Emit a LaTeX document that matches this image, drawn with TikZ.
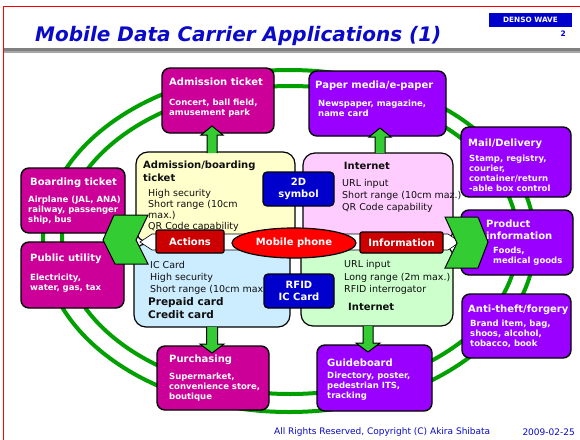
\documentclass[tikz,border=0pt]{standalone}
\usepackage{fontspec}
\setmainfont{DejaVu Sans}
\usetikzlibrary{shapes.geometric}
\definecolor{mag}{RGB}{204,0,153}
\definecolor{purp}{RGB}{153,0,255}
\definecolor{ring}{RGB}{0,160,0}
\definecolor{chev}{RGB}{51,204,51}
\definecolor{dblue}{RGB}{0,0,204}
\definecolor{dred}{RGB}{204,0,0}
\definecolor{tblue}{RGB}{10,10,200}
\definecolor{qyel}{RGB}{255,255,204}
\definecolor{qpink}{RGB}{255,204,255}
\definecolor{qblue}{RGB}{204,236,255}
\definecolor{qgreen}{RGB}{204,255,204}
\definecolor{ink}{RGB}{15,15,15}
\begin{document}
\begin{tikzpicture}[x=1pt,y=-1pt,
  obox/.style={draw=black, line width=1.4pt, rounded corners=8pt, inner sep=0pt},
  qbox/.style={draw=black, line width=1.2pt, rounded corners=12pt, inner sep=0pt},
  cbox/.style={draw=black, line width=1.2pt, rounded corners=2pt, inner sep=0pt, text=white,
    font=\fontsize{10}{12}\selectfont\bfseries, align=center},
  ttl/.style={inner sep=0pt, anchor=north west, align=left, text=white,
    font=\fontsize{10}{12}\selectfont\bfseries},
  bdy/.style={inner sep=0pt, anchor=north west, align=left, text=white,
    font=\fontsize{8.5}{10}\selectfont\bfseries},
  itx/.style={inner sep=0pt, anchor=north west, align=left, text=ink,
    font=\fontsize{9.5}{12}\selectfont},
  ihd/.style={inner sep=0pt, anchor=north west, align=left, text=ink,
    font=\fontsize{10}{13}\selectfont\bfseries},
  garrow/.style={draw=black, line width=1pt, fill=chev, line join=miter},
  ringline/.style={draw=ring, line width=4pt}
]
\useasboundingbox (0,0) rectangle (580,439);
\fill[white] (0,0) rectangle (580,439);
% frame
\draw[red, line width=1.4pt] (3.3,450) -- (3.3,6.5) -- (590,6.5);
% title
\node[inner sep=0pt, anchor=base west, text=tblue, font=\fontsize{20}{24}\selectfont\bfseries\itshape] (title) at (35,41.5) {Mobile Data Carrier Applications (1)};
\fill[black!50] (4,48.3) rectangle (580,51);
\fill[black!35] (4,51) rectangle (580,53.3);
\node[fill=dblue, minimum width=83pt, minimum height=14pt, inner sep=0pt, text=white, font=\fontsize{7.3}{8}\selectfont\bfseries] (denso) at (530.5,19.8) {DENSO WAVE};
\node[inner sep=0pt, anchor=east, text=dblue, font=\fontsize{7.5}{8}\selectfont\bfseries] (pg) at (566,33.5) {2};
% footer
\node[inner sep=0pt, anchor=west, text=tblue, font=\fontsize{9}{10}\selectfont] (foot) at (274,432) {All Rights Reserved, Copyright (C) Akira Shibata};
\node[inner sep=0pt, anchor=east, text=tblue, font=\fontsize{9}{10}\selectfont] (date) at (575,432) {2009-02-25};
% rings
\draw[ringline] (289,241) ellipse [x radius=246pt, y radius=171pt];
\draw[ringline] (290,240) ellipse [x radius=228pt, y radius=154pt];
% outer boxes
\node[obox, fill=mag, minimum width=112pt, minimum height=65pt] (adm) at (218,100.5) {};
\node[ttl] (admT) at (169,77.5) {Admission ticket};
\node[bdy] (admB) at (169,99) {Concert, ball field,\\amusement park};
\node[obox, fill=purp, minimum width=137pt, minimum height=65pt] (pap) at (377.5,103.5) {};
\node[ttl] (papT) at (315,80.5) {Paper media/e-paper};
\node[bdy] (papB) at (318,100) {Newspaper, magazine,\\name card};
\node[obox, fill=purp, minimum width=110pt, minimum height=70pt] (mail) at (516,162) {};
\node[ttl] (mailT) at (468,138.5) {Mail/Delivery};
\node[bdy] (mailB) at (469,155) {Stamp, registry,\\courier,\\container/return\\-able box control};
\node[obox, fill=purp, minimum width=112pt, minimum height=65pt] (prod) at (517,242.5) {};
\node[ttl] (prodT) at (486,219.5) {Product\\information};
\node[bdy] (prodB) at (493,247) {Foods,\\medical goods};
\node[obox, fill=purp, minimum width=109pt, minimum height=64pt] (anti) at (516.5,326) {};
\node[ttl] (antiT) at (468,304.5) {Anti-theft/forgery};
\node[bdy] (antiB) at (470,320) {Brand item, bag,\\shoos, alcohol,\\tobacco, book};
\node[obox, fill=purp, minimum width=115pt, minimum height=66pt] (guide) at (374.5,378) {};
\node[ttl] (guideT) at (327,358.5) {Guideboard};
\node[bdy] (guideB) at (327,372) {Directory, poster,\\pedestrian ITS,\\tracking};
\node[obox, fill=mag, minimum width=112pt, minimum height=64pt] (purch) at (213,378) {};
\node[ttl] (purchT) at (169,354.5) {Purchasing};
\node[bdy] (purchB) at (169,373) {Supermarket,\\convenience store,\\boutique};
\node[obox, fill=mag, minimum width=104pt, minimum height=65pt] (board) at (73,200.5) {};
\node[ttl] (boardT) at (30,177.5) {Boarding ticket};
\node[bdy] (boardB) at (28,196) {Airplane (JAL, ANA)\\railway, passenger\\ship, bus};
\node[obox, fill=mag, minimum width=103pt, minimum height=66pt] (pub) at (72.5,275) {};
\node[ttl] (pubT) at (30,253.5) {Public utility};
\node[bdy] (pubB) at (30,274) {Electricity,\\water, gas, tax};
% quadrant boxes
\node[qbox, fill=qyel, minimum width=159pt, minimum height=90pt] (yel) at (215.5,197) {};
\node[ihd] (yelH) at (143,160.5) {Admission/boarding\\ticket};
\node[itx, font=\fontsize{9.5}{11}\selectfont] (yelB) at (148,189.5) {High security\\Short range (10cm\\max.)\\QR Code capability};
\node[qbox, fill=qpink, minimum width=150pt, minimum height=89pt] (pink) at (378,197.5) {};
\node[ihd, anchor=center] (pinkH) at (367,165.5) {Internet};
\node[itx] (pinkB) at (342,179) {URL input\\Short range (10cm maz.)\\QR Code capability};
\node[qbox, fill=qblue, minimum width=156pt, minimum height=83pt] (lblue) at (212,285.5) {};
\node[itx] (lblueB) at (150,261.5) {IC Card\\High security\\Short range (10cm max.)};
\node[ihd, font=\fontsize{10.5}{13}\selectfont\bfseries] (lblueH) at (148,297) {Prepaid card\\Credit card};
\node[qbox, fill=qgreen, minimum width=152pt, minimum height=81pt] (lgreen) at (377,285.5) {};
\node[itx, font=\fontsize{9.5}{12.5}\selectfont] (lgreenB) at (344,260.5) {URL input\\Long range (2m max.)\\RFID interrogator};
\node[ihd, anchor=west] (lgreenH) at (348,307) {Internet};
% central band
\draw[fill=white, line width=0.6pt] (140,242) -- (152,234) -- (448,234) -- (460,242) -- (448,250) -- (152,250) -- cycle;
% block arrows
\fill[chev] (207,153) -- (207,135) -- (201,135) -- (212,126) -- (223,135) -- (217,135) -- (217,153) -- cycle;
\draw[line width=1pt] (207,153) -- (207,135) -- (201,135) -- (212,126) -- (223,135) -- (217,135) -- (217,153);
\fill[chev] (375,153) -- (375,137) -- (369,137) -- (380,128) -- (391,137) -- (385,137) -- (385,153) -- cycle;
\draw[line width=1pt] (375,153) -- (375,137) -- (369,137) -- (380,128) -- (391,137) -- (385,137) -- (385,153);
\fill[chev] (206.5,327) -- (206.5,344) -- (200,344) -- (212,353) -- (224,344) -- (217.5,344) -- (217.5,327) -- cycle;
\draw[line width=1pt] (206.5,327) -- (206.5,344) -- (200,344) -- (212,353) -- (224,344) -- (217.5,344) -- (217.5,327);
\fill[chev] (363,326) -- (363,343) -- (356,343) -- (368,352) -- (380,343) -- (373,343) -- (373,326) -- cycle;
\draw[line width=1pt] (363,326) -- (363,343) -- (356,343) -- (368,352) -- (380,343) -- (373,343) -- (373,326);
% chevrons
\draw[garrow] (148,215) -- (114,215) -- (103,240) -- (115,264) -- (148,264) -- (136,240) -- cycle;
\draw[garrow] (445,217) -- (478,217) -- (488,242) -- (478,268) -- (445,268) -- (457,243) -- cycle;
% centre nodes
\node[cbox, fill=dred, minimum width=68pt, minimum height=23pt] (act) at (190,241.5) {Actions};
\node[cbox, fill=dred, minimum width=83pt, minimum height=21pt] (info) at (401.5,242.5) {Information};
\node[ellipse, draw=black, line width=1.2pt, fill=red, minimum width=124pt, minimum height=30pt, inner sep=0pt, text=white, font=\fontsize{10}{12}\selectfont\bfseries] (phone) at (294,243) {Mobile phone};
\node[cbox, fill=dblue, minimum width=71pt, minimum height=34pt, rounded corners=4pt] (sym) at (298.5,189) {2D\\symbol};
\node[cbox, fill=dblue, minimum width=70pt, minimum height=34pt, rounded corners=4pt] (rfid) at (299,291) {RFID\\IC Card};
\end{tikzpicture}
\end{document}
